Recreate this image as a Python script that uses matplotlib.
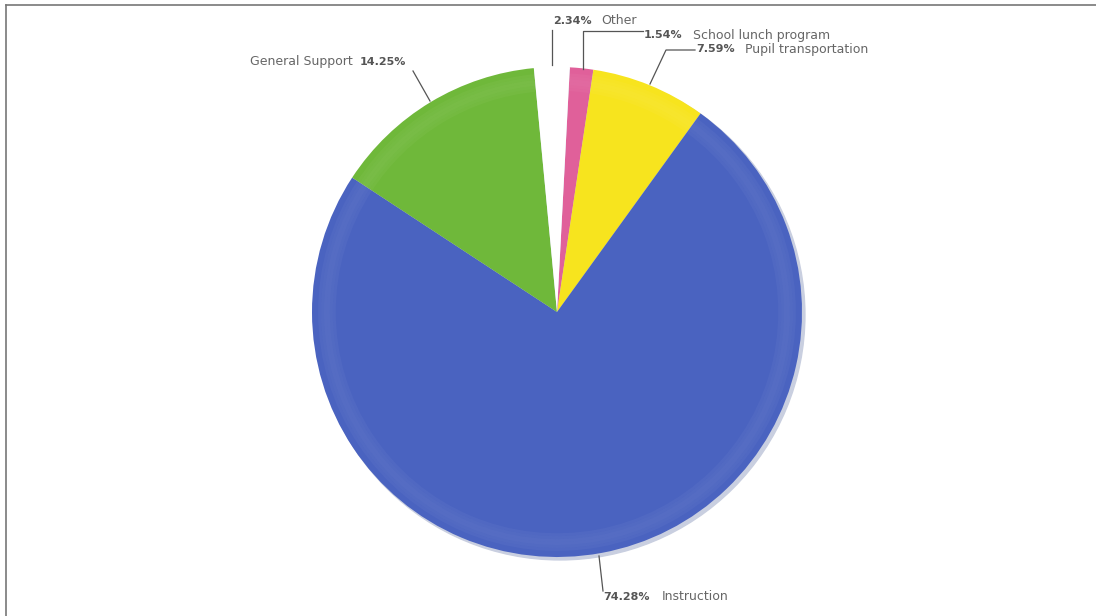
import matplotlib
matplotlib.use("Agg")
import matplotlib.pyplot as plt
from matplotlib.patches import Wedge, Circle
from matplotlib.lines import Line2D

# Data (clockwise from top)
categories = ["School lunch program", "Pupil transportation", "Instruction", "General Support", "Other"]
values = [1.54, 7.59, 74.28, 14.25, 2.34]
colors = ["#e0609a", "#f7e41e", "#4a63c0", "#6fb83a", "#ffffff"]
pct_labels = ["1.54%", "7.59%", "74.28%", "14.25%", "2.34%"]

W, H = 1096, 616
fig = plt.figure(figsize=(W / 100, H / 100), dpi=100)
fig.patch.set_facecolor("white")

cx, cy, r = 557, 312, 245
ax = fig.add_axes([(cx - r) / W, (H - cy - r) / H, 2 * r / W, 2 * r / H])
ax.axis("off")

# subtle shadow
ax.add_patch(Circle((0.012, -0.012), 1.0, color="#c9cfe0", zorder=0, clip_on=False))

wedges, _ = ax.pie(values, colors=colors, startangle=87, counterclock=False,
                   radius=1.0, wedgeprops=dict(linewidth=0))
for w in wedges:
    w.set_zorder(1)
    w.set_clip_on(False)

# soft rim highlight (gradient band)
for w, c in zip(wedges, colors):
    if c == "#ffffff":
        continue
    for k in range(6):
        rr = 0.975 - k * 0.012
        a = 0.05 * (1 - abs(k - 2.5) / 3.5)
        ring = Wedge((0, 0), rr, w.theta1, w.theta2, width=0.012, color="white",
                     alpha=a + 0.02, linewidth=0, zorder=2)
        ax.add_patch(ring)

ax.set_xlim(-1, 1)
ax.set_ylim(-1, 1)
ax.set_aspect("equal")

# Labels in figure pixel coordinates
def fx(x):
    return x / W

def fy(y):
    return 1 - y / H

lc = "#555555"
tc = "#666666"
pc = "#555555"
fs_pct = 8
fs_name = 9

def line(xs, ys):
    fig.add_artist(Line2D([fx(x) for x in xs], [fy(y) for y in ys], color=lc, lw=0.9))

def label(x, y, first, second, first_bold, gap=10):
    t1 = fig.text(fx(x), fy(y), first, fontsize=fs_pct if first_bold else fs_name,
                  va="center", ha="left",
                  color=pc if first_bold else tc,
                  fontweight="bold" if first_bold else "normal", family="DejaVu Sans")
    fig.canvas.draw()
    bb = t1.get_window_extent()
    x2 = bb.x1 + gap
    fig.text(x2 / W, fy(y), second, fontsize=fs_name if first_bold else fs_pct,
             va="center", ha="left",
             color=tc if first_bold else pc,
             fontweight="normal" if first_bold else "bold", family="DejaVu Sans")

# Other
line([552, 552], [65, 30])
label(553, 21, pct_labels[4], categories[4], True)
# School lunch
line([583, 583, 643], [69, 31, 31])
label(644, 35, pct_labels[0], categories[0], True)
# Pupil transportation
line([650, 666, 695], [84, 50, 50])
label(696, 49, pct_labels[1], categories[1], True)
# General Support
line([430, 413], [101, 71])
label(250, 62, categories[3], pct_labels[3], False, gap=7)
# Instruction
line([599, 603], [556, 591])
label(603, 597, pct_labels[2], categories[2], True, gap=12)

# Frame lines
fig.add_artist(Line2D([fx(6), fx(W)], [fy(5), fy(5)], color="#777777", lw=1.2))
fig.add_artist(Line2D([fx(6), fx(6)], [fy(5), fy(H)], color="#777777", lw=1.2))

fig.savefig("out.png", dpi=100, facecolor="white")
